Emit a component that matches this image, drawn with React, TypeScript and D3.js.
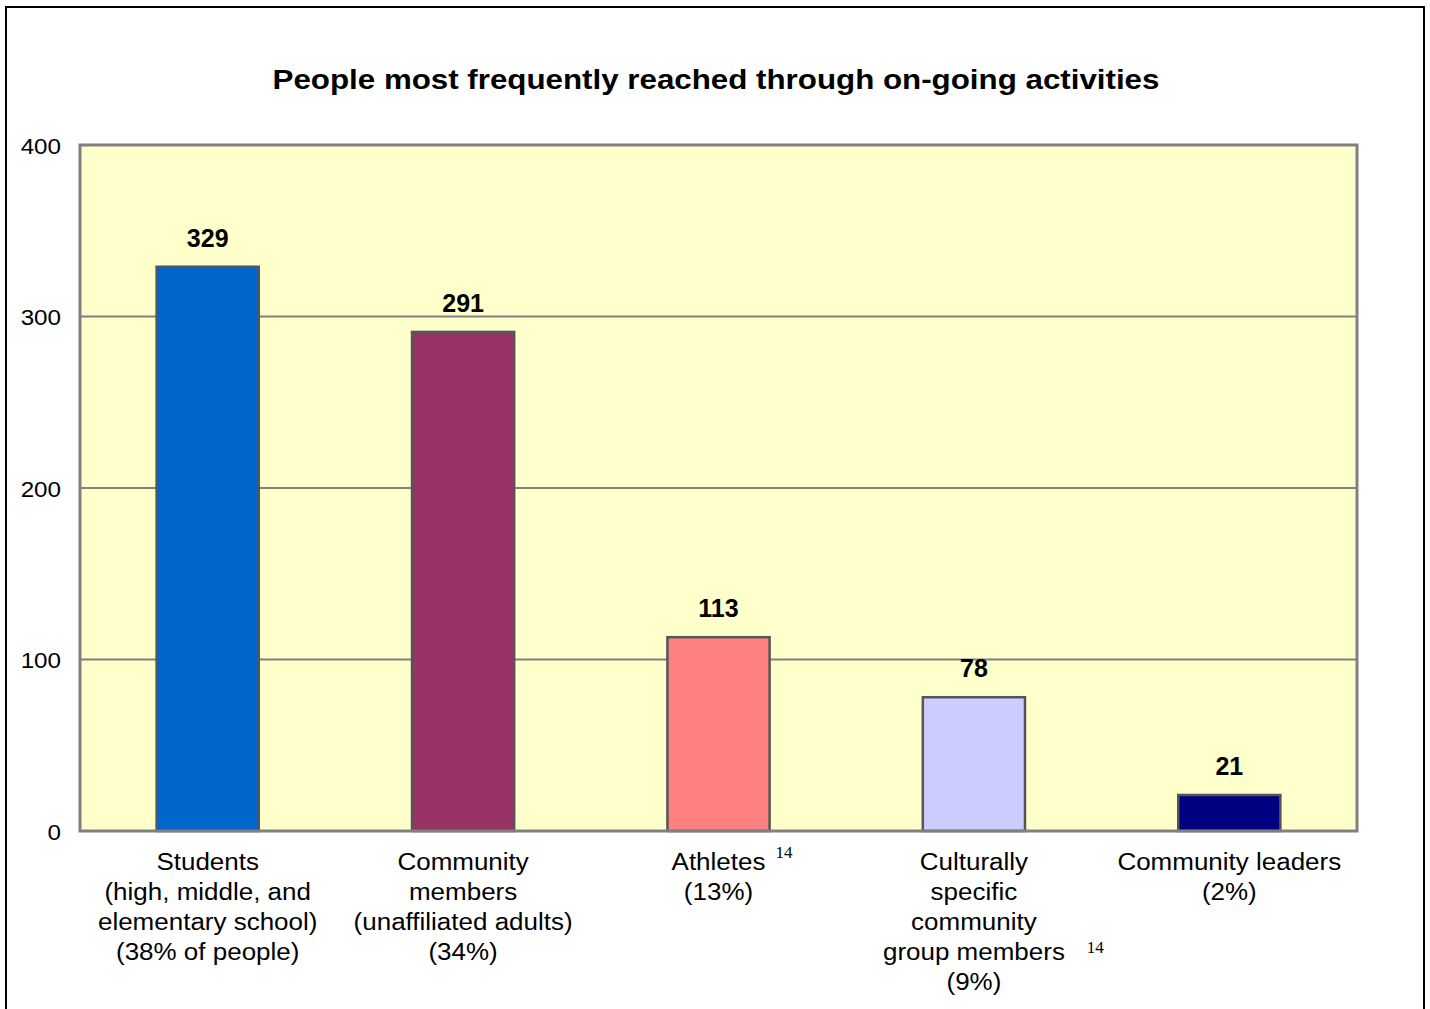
import React, { useEffect, useRef } from "react";
import * as d3 from "d3";

// chart values
const categories = ["students", "community", "athletes", "cultural", "leaders"];
const counts = [329, 291, 113, 78, 21];
const barColors = ["#0066CC", "#993366", "#FF8080", "#CCCCFF", "#000080"];
const categoryLines: string[][] = [
  ["Students", "(high, middle, and", "elementary school)", "(38% of people)"],
  ["Community", "members", "(unaffiliated adults)", "(34%)"],
  ["Athletes", "(13%)"],
  ["Culturally", "specific", "community", "group members", "(9%)"],
  ["Community leaders", "(2%)"],
];
// footnote marks: [category index, line index, gap, rise]
const footnotes: [number, number, number, number][] = [
  [2, 0, 10, 12],
  [3, 3, 22, 7],
];
const yTicks = [0, 100, 200, 300, 400];
const title = "People most frequently reached through on-going activities";

const W = 1430;
const H = 1009;
const FONT = "Arial, 'Liberation Sans', sans-serif";
const STRETCH = 1.13; // the original text is a little wider than Arial

export default function App() {
  const svgRef = useRef<SVGSVGElement | null>(null);

  useEffect(() => {
    if (!svgRef.current) return;
    const svg = d3.select(svgRef.current);
    svg.selectAll("*").remove();

    const plot = { left: 80, right: 1357, top: 145, bottom: 831 };

    const x = d3
      .scaleBand<string>()
      .domain(categories)
      .range([plot.left, plot.right])
      .padding(0);
    const barW = x.bandwidth() * 0.4;

    const y = d3.scaleLinear().domain([0, 400]).range([plot.bottom, plot.top]);

    // outer frame
    svg
      .append("rect")
      .attr("x", 6)
      .attr("y", 7)
      .attr("width", 1418)
      .attr("height", 1030)
      .attr("fill", "#fff")
      .attr("stroke", "#000")
      .attr("stroke-width", 2);

    svg
      .append("text")
      .attr("transform", "translate(716,89) scale(1.16,1)")
      .attr("text-anchor", "middle")
      .style("font-family", FONT)
      .style("font-weight", "bold")
      .style("font-size", "27px")
      .text(title);

    // plot background
    svg
      .append("rect")
      .attr("x", plot.left)
      .attr("y", plot.top)
      .attr("width", plot.right - plot.left)
      .attr("height", plot.bottom - plot.top)
      .attr("fill", "#FFFFCC");

    // gridlines
    svg
      .append("g")
      .selectAll("line")
      .data(yTicks.slice(1, -1))
      .enter()
      .append("line")
      .attr("x1", plot.left)
      .attr("x2", plot.right)
      .attr("y1", (d) => y(d))
      .attr("y2", (d) => y(d))
      .attr("stroke", "#808080")
      .attr("stroke-width", 2);

    // y labels
    svg
      .append("g")
      .selectAll("text")
      .data(yTicks)
      .enter()
      .append("text")
      .attr("transform", (d) => `translate(61,${y(d) + 8.5}) scale(1.1,1)`)
      .attr("text-anchor", "end")
      .style("font-family", FONT)
      .style("font-size", "22px")
      .text((d) => d);

    // bars
    svg
      .append("g")
      .selectAll("rect")
      .data(counts)
      .enter()
      .append("rect")
      .attr("x", (d, i) => x(categories[i])! + (x.bandwidth() - barW) / 2)
      .attr("y", (d) => y(d))
      .attr("width", barW)
      .attr("height", (d) => y(0) - y(d))
      .attr("fill", (d, i) => barColors[i])
      .attr("stroke", "#555")
      .attr("stroke-width", 2.5);

    // value labels
    svg
      .append("g")
      .selectAll("text")
      .data(counts)
      .enter()
      .append("text")
      .attr("x", (d, i) => x(categories[i])! + x.bandwidth() / 2)
      .attr("y", (d) => y(d) - 20)
      .attr("text-anchor", "middle")
      .style("font-family", FONT)
      .style("font-weight", "bold")
      .style("font-size", "25px")
      .text((d) => d);

    // plot border
    svg
      .append("rect")
      .attr("x", plot.left)
      .attr("y", plot.top)
      .attr("width", plot.right - plot.left)
      .attr("height", plot.bottom - plot.top)
      .attr("fill", "none")
      .attr("stroke", "#808080")
      .attr("stroke-width", 3);

    // category labels, one text per line
    const labels = svg.append("g");
    const lineWidth: number[][] = [];
    categories.forEach((c, i) => {
      const cx = x(c)! + x.bandwidth() / 2;
      lineWidth[i] = [];
      categoryLines[i].forEach((line, j) => {
        const t = labels
          .append("text")
          .attr("transform", `translate(${cx},${870 + j * 30}) scale(${STRETCH},1)`)
          .attr("text-anchor", "middle")
          .style("font-family", FONT)
          .style("font-size", "23px")
          .text(line);
        lineWidth[i][j] = (t.node() as SVGTextElement).getComputedTextLength() * STRETCH;
      });
    });

    // footnote marks
    footnotes.forEach(([ci, li, gap, rise]) => {
      const cx = x(categories[ci])! + x.bandwidth() / 2;
      labels
        .append("text")
        .attr("x", cx + lineWidth[ci][li] / 2 + gap)
        .attr("y", 870 + li * 30 - rise)
        .style("font-family", "'Times New Roman', 'Liberation Serif', serif")
        .style("font-size", "17px")
        .text("14");
    });
  }, []);

  return (
    <svg
      ref={svgRef}
      width={W}
      height={H}
      style={{ position: "absolute", left: 0, top: 0, background: "#fff" }}
    />
  );
}
